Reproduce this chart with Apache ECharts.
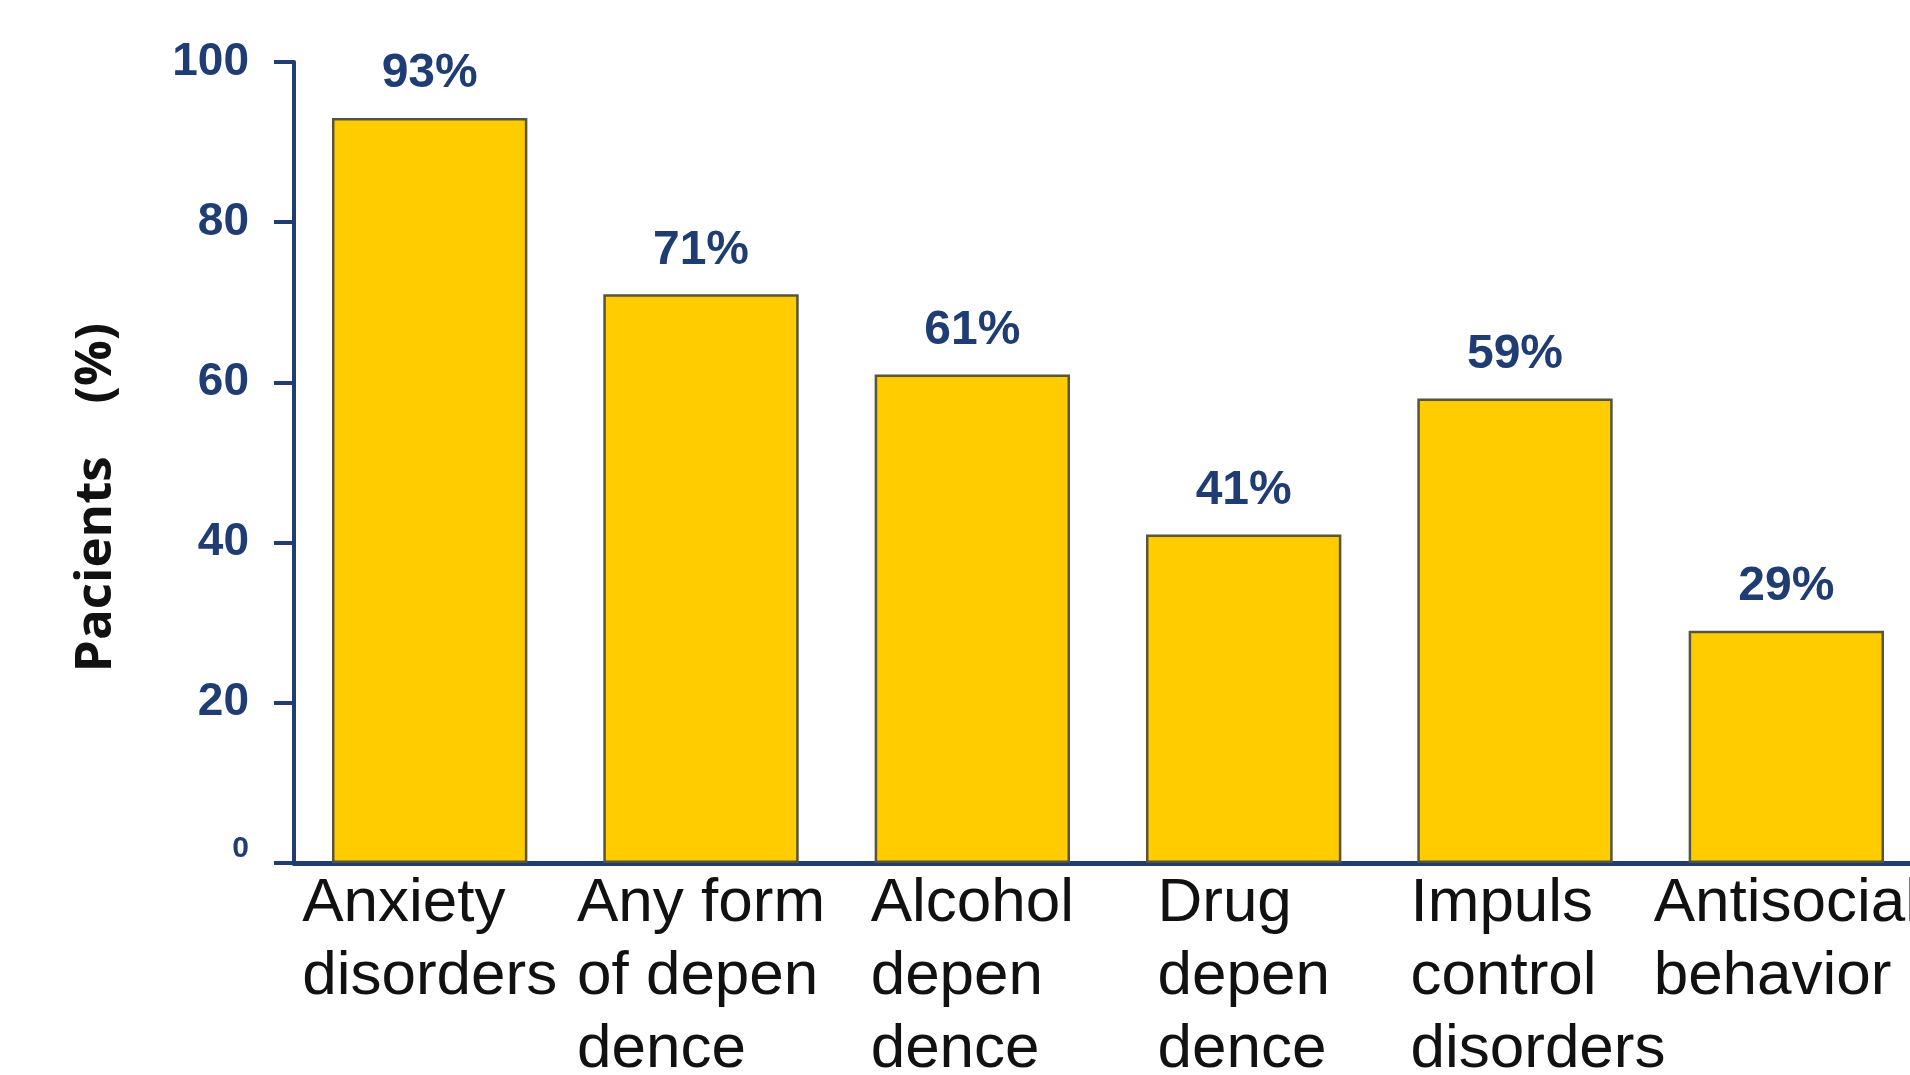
<!DOCTYPE html>
<html>
<head>
<meta charset="utf-8">
<script src="https://cdn.jsdelivr.net/npm/echarts@6/dist/echarts.min.js"></script>
<style>
html,body{margin:0;padding:0;background:#fff;}
#chart{width:1910px;height:1075px;}
</style>
</head>
<body>
<div id="chart"></div>
<script>
const categories = ['Anxiety\ndisorders', 'Any form\nof depen\ndence', 'Alcohol\ndepen\ndence', 'Drug\ndepen\ndence', 'Impuls\ncontrol\ndisorders', 'Antisocial\nbehavior'];
const values = [93, 71, 61, 41, 58, 29];
const valueLabels = ['93%', '71%', '61%', '41%', '59%', '29%'];
const yTicks = [0, 20, 40, 60, 80, 100];
const yAxisTitle = 'Pacients    (%)';

const NAVY = '#1f3c73';

const chart = echarts.init(document.getElementById('chart'), null, {renderer: 'canvas'});
chart.setOption({
  backgroundColor: '#ffffff',
  animation: false,
  grid: {left: 294, width: 1628, top: 62, height: 801, containLabel: false, outerBoundsMode: 'none'},
  xAxis: {
    type: 'category',
    data: categories,
    axisLine: {show: true, lineStyle: {color: NAVY, width: 5}},
    axisTick: {show: false},
    axisLabel: {
      interval: 0,
      margin: 4,
      align: 'center',
      formatter: function (v, idx) {
        const st = idx === 4 ? 's' : 'l';
        return v.split('\n').map(function (s) { return '{' + st + '|' + s + '}'; }).join('\n');
      },
      rich: {
        l: {align: 'left', fontFamily: 'Liberation Sans', fontSize: 62, lineHeight: 73, color: '#111111'},
        s: {align: 'left', fontFamily: 'Liberation Sans', fontSize: 62, lineHeight: 73, color: '#111111', padding: [0, 0, 0, 46]}
      }
    },
    splitLine: {show: false}
  },
  yAxis: {
    type: 'value',
    min: yTicks[0],
    max: yTicks[yTicks.length - 1],
    interval: yTicks[1] - yTicks[0],
    name: yAxisTitle,
    nameLocation: 'middle',
    nameRotate: 90,
    nameGap: 172,
    nameTextStyle: {fontFamily: 'Open Sans', fontWeight: 'bold', fontSize: 51, color: '#111111', padding: [0, 70, 0, 0]},
    axisLine: {show: true, lineStyle: {color: NAVY, width: 4}},
    axisTick: {show: true, length: 20, lineStyle: {color: NAVY, width: 4}},
    splitLine: {show: false},
    axisLabel: {
      margin: 45,
      formatter: function (v) { return v === 0 ? '{z|' + v + '}' : '{n|' + v + '}'; },
      rich: {
        n: {fontFamily: 'Liberation Sans', fontWeight: 'bold', fontSize: 46, color: NAVY},
        z: {fontFamily: 'Liberation Sans', fontWeight: 'bold', fontSize: 30, color: NAVY, padding: [0, 0, 28, 0]}
      }
    }
  },
  series: [{
    type: 'bar',
    data: values,
    barCategoryGap: '28%',
    itemStyle: {color: '#FFCC00', borderColor: '#57543a', borderWidth: 2.5},
    label: {
      show: true,
      position: 'top',
      distance: 20,
      formatter: function (p) { return valueLabels[p.dataIndex]; },
      fontFamily: 'Liberation Sans',
      fontWeight: 'bold',
      fontSize: 48,
      color: NAVY
    }
  }]
});
</script>
</body>
</html>
